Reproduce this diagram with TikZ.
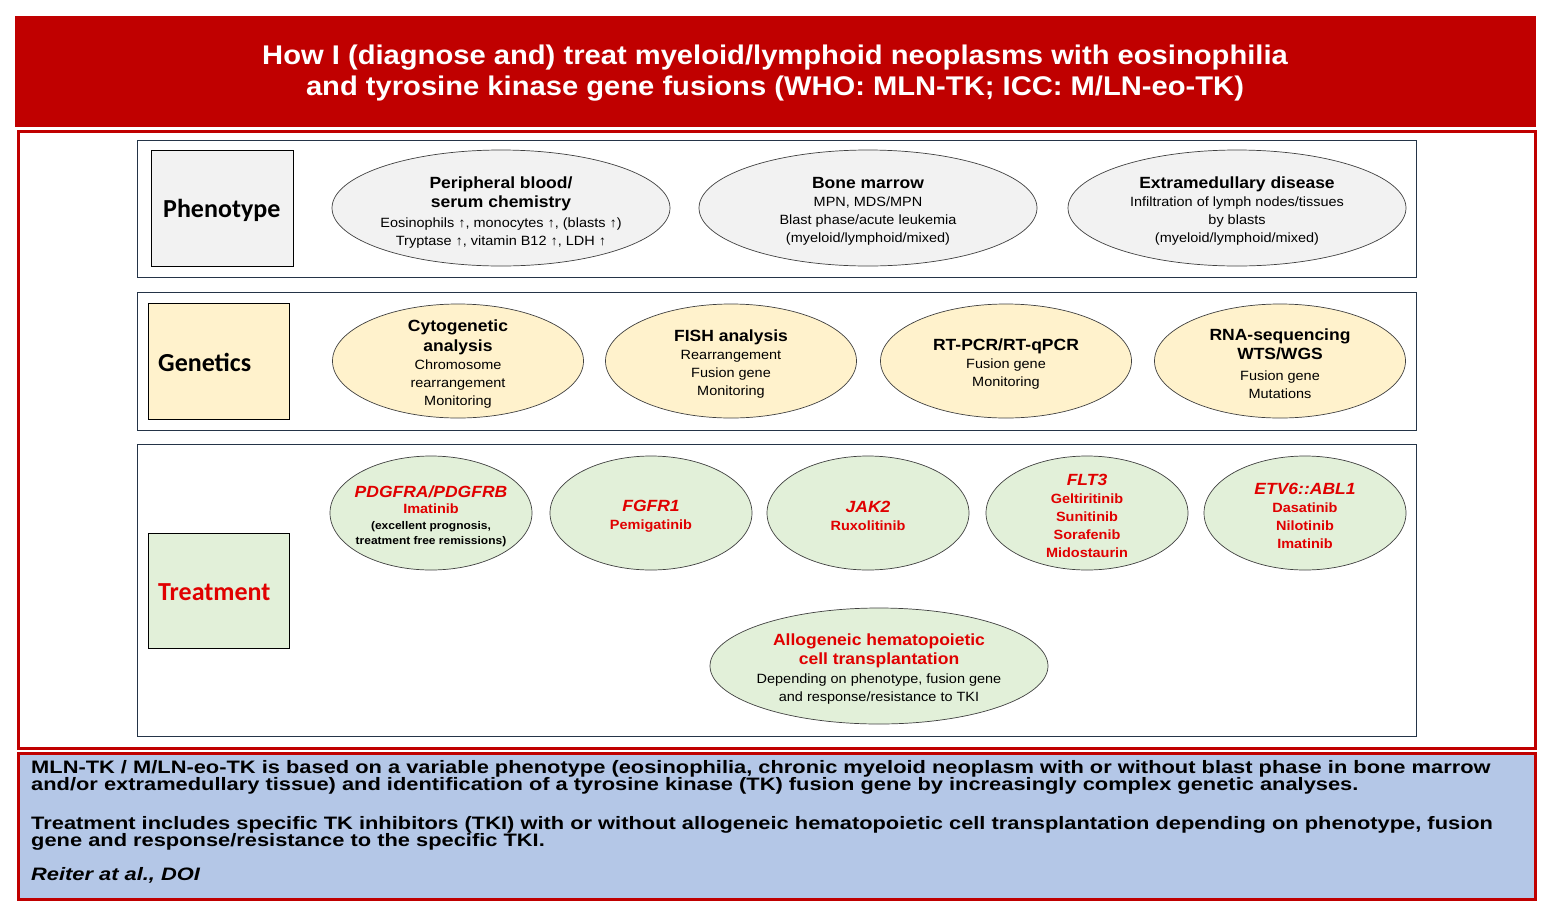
\documentclass[tikz,border=0pt]{standalone}
\usepackage{fontspec}
\setmainfont[FakeStretch=1.08]{Liberation Sans}
\newfontfamily\widefont[FakeStretch=1.214]{Liberation Sans}
\newfontfamily\calib{Carlito}
\usetikzlibrary{shapes.geometric}
\definecolor{hdrred}{HTML}{C00000}
\definecolor{txtred}{HTML}{E00000}
\definecolor{bluebg}{HTML}{B4C7E7}
\definecolor{panelline}{HTML}{243447}
\definecolor{phfill}{HTML}{F2F2F2}
\definecolor{gefill}{HTML}{FFF2CC}
\definecolor{trfill}{HTML}{E2F0D9}
\newcommand{\hd}{\fontsize{16.2}{18}\selectfont\bfseries}
\newcommand{\bd}{\fontsize{13.4}{18}\selectfont}
\newcommand{\sm}{\fontsize{11.1}{15}\selectfont\bfseries}
\begin{document}
\begin{tikzpicture}[x=1pt,y=-1pt,
  panel/.style={draw=panelline, line width=1pt},
  labelbox/.style={draw=black, line width=1pt, anchor=north west, inner sep=0pt},
  labeltext/.style={font=\calib\fontsize{26}{28}\selectfont\bfseries, anchor=west, inner sep=0pt},
  ell/.style={ellipse, draw=black!75, line width=0.7pt, inner sep=0pt},
  phell/.style={ell, fill=phfill, minimum width=338pt, minimum height=116pt},
  geell/.style={ell, fill=gefill, minimum width=251pt, minimum height=114pt},
  trell/.style={ell, fill=trfill, minimum width=202pt, minimum height=114pt},
  alell/.style={ell, fill=trfill, minimum width=338pt, minimum height=116pt},
  etext/.style={align=center, inner sep=0pt, font=\bd},
  ttext/.style={etext, text=txtred},
]
\useasboundingbox (0,0) rectangle (1551,919);
\fill[white] (0,0) rectangle (1551,919);

% header
\node[fill=hdrred, draw=hdrred, minimum width=1520pt, minimum height=110pt, anchor=north west, inner sep=0pt] (header) at (15,16) {};
\node[text=white, font=\fontsize{27}{31}\selectfont\bfseries, align=center, inner sep=0pt, anchor=base] (title) at (775,95.5)
  {How I (diagnose and) treat myeloid/lymphoid neoplasms with eosinophilia\\and tyrosine kinase gene fusions (WHO: MLN-TK; ICC: M/LN-eo-TK)};

% main frame
\node[draw=hdrred, line width=3pt, fill=white, minimum width=1517pt, minimum height=617pt, anchor=north west, inner sep=0pt] (mainframe) at (17,130) {};

% bottom box
\node[draw=hdrred, line width=3pt, fill=bluebg, minimum width=1517pt, minimum height=146pt, anchor=north west, inner sep=0pt] (bottombox) at (17,752) {};

% panels
\node[panel, minimum width=1279pt, minimum height=137pt, anchor=north west, inner sep=0pt] (phpanel) at (137,140) {};
\node[panel, minimum width=1279pt, minimum height=138pt, anchor=north west, inner sep=0pt] (gepanel) at (137,292) {};
\node[panel, minimum width=1279pt, minimum height=292pt, anchor=north west, inner sep=0pt] (trpanel) at (137,444) {};

% label boxes
\node[labelbox, fill=phfill, minimum width=142pt, minimum height=116pt] (phbox) at (151,150) {};
\node[labeltext] (phlabel) at (163,210) {Phenotype};
\node[labelbox, fill=gefill, minimum width=141pt, minimum height=116pt] (gebox) at (148,303) {};
\node[labeltext] (gelabel) at (158,362) {Genetics};
\node[labelbox, fill=trfill, minimum width=141pt, minimum height=115pt] (trbox) at (148,533) {};
\node[labeltext, text=txtred] (trlabel) at (158,592) {Treatment};

% phenotype ellipses
\node[phell] (pb) at (501,208) {};
\node[etext] (pbt) at ([yshift=-5pt]pb.center) {\hd Peripheral blood/\\[1pt]\hd serum chemistry\\[2pt]Eosinophils ↑, monocytes ↑, (blasts ↑)\\Tryptase ↑, vitamin B12 ↑, LDH ↑};
\node[phell] (bm) at (868,208) {};
\node[etext] (bmt) at ([yshift=-3pt]bm.center) {\hd Bone marrow\\MPN, MDS/MPN\\Blast phase/acute leukemia\\(myeloid/lymphoid/mixed)};
\node[phell] (ex) at (1237,208) {};
\node[etext] (ext) at ([yshift=-3pt]ex.center) {\hd Extramedullary disease\\Infiltration of lymph nodes/tissues\\by blasts\\(myeloid/lymphoid/mixed)};

% genetics ellipses
\node[geell] (cy) at (458,361) {};
\node[etext] (cyt) at ([yshift=-3pt]cy.center) {\hd Cytogenetic\\[2pt]\hd analysis\\Chromosome\\rearrangement\\Monitoring};
\node[geell] (fi) at (731,361) {};
\node[etext] (fit) at ([yshift=-3pt]fi.center) {\hd FISH analysis\\Rearrangement\\Fusion gene\\Monitoring};
\node[geell] (rt) at (1006,361) {};
\node[etext] (rtt) at ([yshift=-3pt]rt.center) {\hd RT-PCR/RT-qPCR\\Fusion gene\\Monitoring};
\node[geell] (rn) at (1280,361) {};
\node[etext] (rnt) at ([yshift=-3pt]rn.center) {\hd RNA-sequencing\\[1pt]\hd WTS/WGS\\[3pt]Fusion gene\\Mutations};

% treatment ellipses
\node[trell] (pd) at (431,513) {};
\node[ttext, font=\fontsize{13.4}{15.5}\selectfont] (pdt) at ([yshift=-3pt]pd.center) {\hd\itshape PDGFRA/PDGFRB\\[1pt]\bfseries Imatinib\\\color{black}\sm (excellent prognosis,\\[-0.5pt]\color{black}\sm treatment free remissions)};
\node[trell] (fg) at (651,513) {};
\node[ttext] (fgt) at ([yshift=-3pt]fg.center) {\hd\itshape FGFR1\\\bfseries Pemigatinib};
\node[trell] (jk) at (868,513) {};
\node[ttext] (jkt) at ([yshift=-3pt]jk.center) {\hd\itshape JAK2\\\bfseries Ruxolitinib};
\node[trell] (fl) at (1087,513) {};
\node[ttext] (flt) at ([yshift=-3pt]fl.center) {\hd\itshape FLT3\\\bfseries Geltiritinib\\\bfseries Sunitinib\\\bfseries Sorafenib\\\bfseries Midostaurin};
\node[trell] (et) at (1305,513) {};
\node[ttext] (ett) at ([yshift=-3pt]et.center) {\hd\itshape ETV6::ABL1\\\bfseries Dasatinib\\\bfseries Nilotinib\\\bfseries Imatinib};
\node[alell] (al) at (879,666) {};
\node[etext] (alt) at ([yshift=-3pt]al.center) {\hd\color{txtred}Allogeneic hematopoietic\\[1pt]\hd\color{txtred}cell transplantation\\[1pt]Depending on phenotype, fusion gene\\and response/resistance to TKI};

% bottom text
\node[anchor=base west, align=left, inner sep=0pt, font={\widefont\fontsize{18}{17}\selectfont\bfseries\lineskiplimit=-30pt}] (summary) at (31,880)
  {MLN-TK / M/LN-eo-TK is based on a variable phenotype (eosinophilia, chronic myeloid neoplasm with or without blast phase in bone marrow\\
  and/or extramedullary tissue) and identification of a tyrosine kinase (TK) fusion gene by increasingly complex genetic analyses.\\[22pt]
  Treatment includes specific TK inhibitors (TKI) with or without allogeneic hematopoietic cell transplantation depending on phenotype, fusion\\
  gene and response/resistance to the specific TKI.\\[17pt]
  \itshape Reiter at al., DOI};
\end{tikzpicture}
\end{document}
